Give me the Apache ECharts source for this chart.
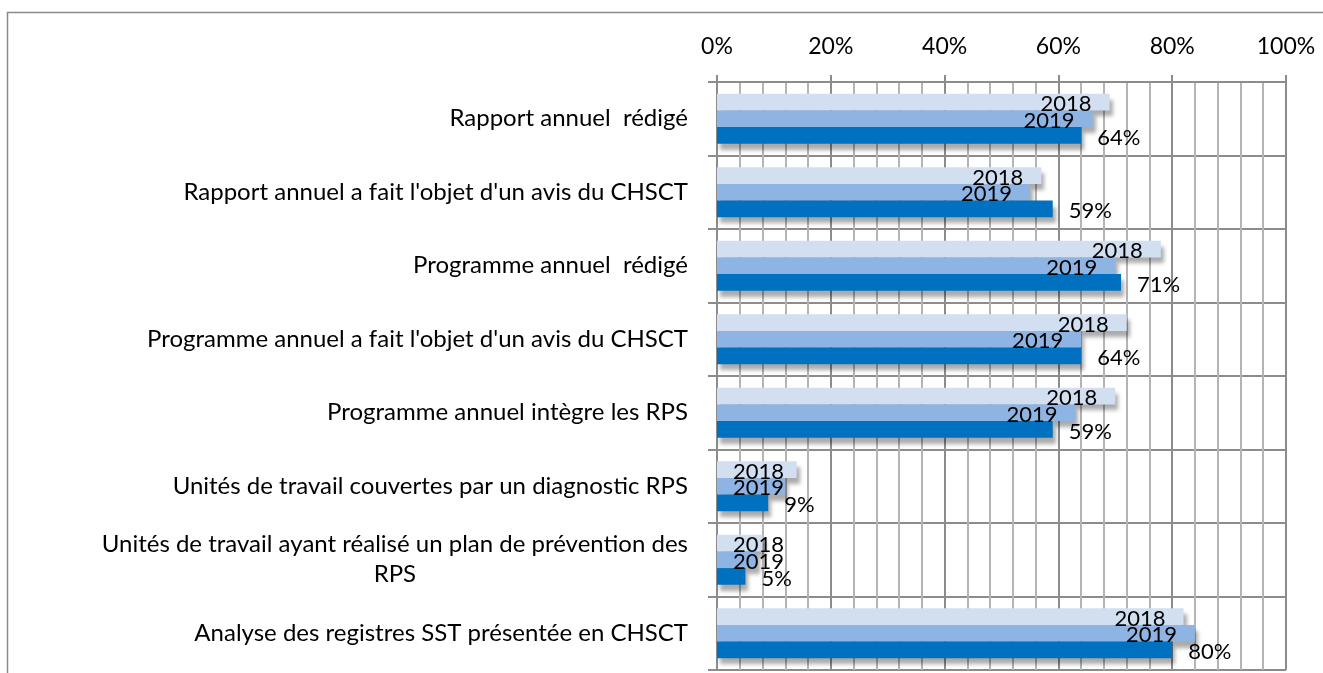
<!DOCTYPE html>
<html>
<head>
<meta charset="utf-8">
<script src="https://cdn.jsdelivr.net/npm/echarts@6/dist/echarts.min.js"></script>
<style>
  html, body { margin: 0; padding: 0; background: #fff; }
  #chart { width: 1323px; height: 673px; }
</style>
</head>
<body>
<div id="chart"></div>
<script>
// donnees
var categories = [
    'Rapport annuel  rédigé',
    "Rapport annuel a fait l'objet d'un avis du CHSCT",
    'Programme annuel  rédigé',
    "Programme annuel a fait l'objet d'un avis du CHSCT",
    'Programme annuel intègre les RPS',
    'Unités de travail couvertes par un diagnostic RPS',
    'Unités de travail ayant réalisé un plan de prévention des\nRPS',
    'Analyse des registres SST présentée en CHSCT'
];
var years = ['2018', '2019', '2020'];
var values2018 = [69, 57, 78, 72, 70, 14, 8, 82];
var values2019 = [66, 55, 70, 64, 63, 12, 7, 84];
var values2020 = [64, 59, 71, 64, 59, 9, 5, 80];
var xTicks = [0, 20, 40, 60, 80, 100];

var FONT = 'Lato';
var FS_CAT = 24;   // libelles des categories
var FS_AXIS = 23;  // 0% ... 100%
var FS_LAB = 22;   // etiquettes des barres

// largeur de la premiere ligne pour centrer "RPS" dessous
var ctx = document.createElement('canvas').getContext('2d');
ctx.font = FS_CAT + 'px ' + FONT;
var longest = 0;
categories.forEach(function (c) {
    c.split('\n').forEach(function (l) { longest = Math.max(longest, ctx.measureText(l).width); });
});

var myChart = echarts.init(document.getElementById('chart'));

function barSeries(name, data, color, isLast) {
    return {
        name: name,
        type: 'bar',
        barGap: '0%',
        barCategoryGap: '32%',
        itemStyle: {
            color: color,
            shadowColor: 'rgba(0,0,0,0.33)',
            shadowBlur: 4,
            shadowOffsetX: 3,
            shadowOffsetY: 6
        },
        label: {
            show: true,
            position: isLast ? 'right' : 'insideRight',
            distance: isLast ? 16 : 18,
            offset: [0, 2],
            formatter: isLast ? '{c}%' : '{a}',
            color: '#000',
            fontFamily: FONT,
            fontSize: FS_LAB
        },
        data: data.map(function (v) {
            // petites barres : l'etiquette part du debut de la barre
            if (!isLast && v < 20) {
                return { value: v, label: { position: 'insideLeft', distance: 16 } };
            }
            return v;
        })
    };
}

var option = {
    backgroundColor: '#fff',
    animation: false,
    graphic: [{
        type: 'rect',
        shape: { x: 7.5, y: 12.5, width: 1500, height: 900 },
        style: { fill: 'none', stroke: '#8a8a8a', lineWidth: 1.5 },
        silent: true
    }],
    grid: { left: 717, right: 37, top: 82, bottom: 3, containLabel: false },
    xAxis: {
        type: 'value',
        position: 'top',
        min: xTicks[0],
        max: xTicks[xTicks.length - 1],
        interval: 20,
        axisLine: { show: true, lineStyle: { color: '#8c8c8c', width: 2 } },
        axisTick: { show: true, inside: false, length: 7, lineStyle: { color: '#8c8c8c', width: 2 } },
        axisLabel: {
            margin: 24,
            formatter: '{value}%',
            color: '#000',
            fontFamily: FONT,
            fontSize: FS_AXIS
        },
        splitLine: { show: true, lineStyle: { color: '#8c8c8c', width: 2 } },
        minorTick: { show: false, splitNumber: 5 },
        minorSplitLine: { show: true, lineStyle: { color: '#b4b4b4', width: 2 } }
    },
    yAxis: {
        type: 'category',
        inverse: true,
        data: categories,
        axisLine: { show: true, lineStyle: { color: '#8c8c8c', width: 2 } },
        axisTick: { show: true, inside: false, length: 9, lineStyle: { color: '#8c8c8c', width: 2 } },
        splitLine: { show: true, lineStyle: { color: '#8c8c8c', width: 2 } },
        axisLabel: {
            margin: 29,
            color: '#000',
            fontFamily: FONT,
            fontSize: FS_CAT,
            lineHeight: 30,
            formatter: function (val) {
                var lines = val.split('\n');
                if (lines.length === 1) return val;
                return lines.map(function (l) { return '{c|' + l + '}'; }).join('\n');
            },
            rich: {
                c: {
                    width: longest,
                    align: 'center',
                    color: '#000',
                    fontFamily: FONT,
                    fontSize: FS_CAT,
                    lineHeight: 30
                }
            }
        }
    },
    series: [
        barSeries(years[0], values2018, '#D1DFF1', false),
        barSeries(years[1], values2019, '#8EB4E3', false),
        barSeries(years[2], values2020, '#0070C0', true)
    ]
};

myChart.setOption(option);
</script>
</body>
</html>
